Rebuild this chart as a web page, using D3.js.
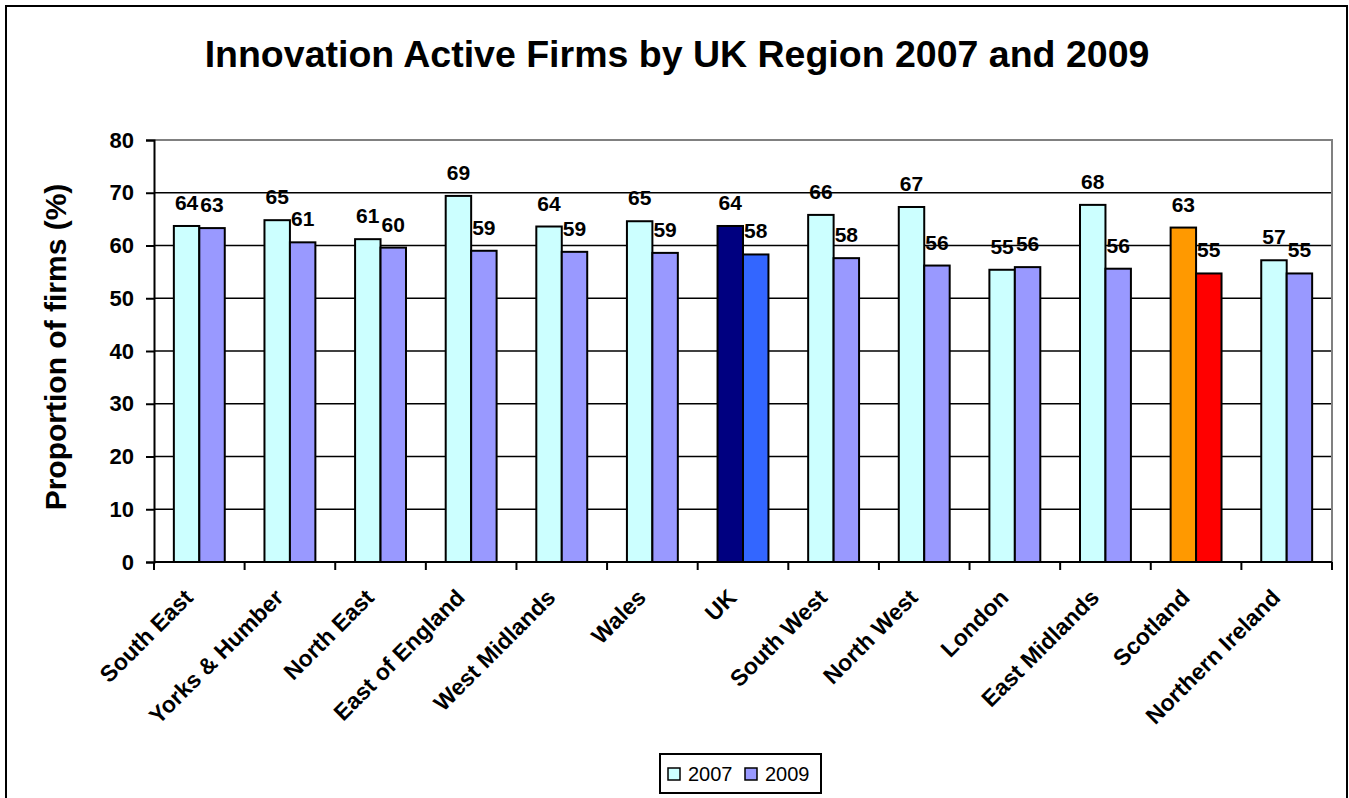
<!DOCTYPE html>
<html>
<head>
<meta charset="utf-8">
<script src="https://cdn.jsdelivr.net/npm/d3@7"></script>
<style>
  body { margin: 0; background: #fff; }
  svg { font-family: Arial, "Liberation Sans", sans-serif; }
</style>
</head>
<body>
<script>
// chart data
let regions = ['South East', 'Yorks & Humber', 'North East', 'East of England', 'West Midlands',
  'Wales', 'UK', 'South West', 'North West', 'London', 'East Midlands', 'Scotland', 'Northern Ireland'];
let values2007 = [63.7, 64.8, 61.2, 69.4, 63.6, 64.6, 63.7, 65.8, 67.3, 55.4, 67.7, 63.4, 57.2];
let values2009 = [63.3, 60.6, 59.6, 59.0, 58.8, 58.6, 58.3, 57.6, 56.2, 55.9, 55.6, 54.7, 54.7];
let seriesNames = ['2007', '2009'];
let yTicks = [0, 10, 20, 30, 40, 50, 60, 70, 80];

let width = 1349, height = 798;
let plotLeft = 154, plotRight = 1332, plotTop = 140, plotBottom = 562;

let seriesColors = { '2007': '#CCFFFF', '2009': '#9999FF' };
let highlight = {
  'UK': { '2007': '#000080', '2009': '#3366FF' },
  'Scotland': { '2007': '#FF9900', '2009': '#FF0000' }
};
function colorFor(region, series) {
  return highlight[region] ? highlight[region][series] : seriesColors[series];
}

let rows = regions.map((r, i) => ({ region: r, '2007': values2007[i], '2009': values2009[i] }));

let svg = d3.select('body').append('svg')
  .attr('width', width)
  .attr('height', height);

// outer chart border
svg.append('rect')
  .attr('x', 6).attr('y', 6)
  .attr('width', 1341).attr('height', 800)
  .attr('fill', 'none')
  .attr('stroke', '#000')
  .attr('stroke-width', 2);

let x = d3.scaleBand().domain(regions).range([plotLeft, plotRight]);
let inner = d3.scaleBand().domain(seriesNames)
  .range([0, x.bandwidth()]).paddingOuter(0.78).paddingInner(0);
let y = d3.scaleLinear().domain([0, 80]).range([plotBottom, plotTop]);

// gridlines
svg.append('g')
  .selectAll('line')
  .data(yTicks.filter(t => t > 0 && t < 80))
  .enter().append('line')
  .attr('x1', plotLeft).attr('x2', plotRight)
  .attr('y1', d => y(d)).attr('y2', d => y(d))
  .attr('stroke', '#000')
  .attr('stroke-width', 1.5);

// plot area border (top & right, grey)
svg.append('path')
  .attr('d', 'M' + plotLeft + ',' + y(80) + 'H' + plotRight + 'V' + plotBottom)
  .attr('fill', 'none')
  .attr('stroke', '#808080')
  .attr('stroke-width', 2);

// bars
let groups = svg.append('g').selectAll('g')
  .data(rows)
  .enter().append('g')
  .attr('transform', d => 'translate(' + x(d.region) + ',0)');

groups.selectAll('rect')
  .data(d => seriesNames.map(s => ({ region: d.region, series: s, value: d[s] })))
  .enter().append('rect')
  .attr('x', d => inner(d.series))
  .attr('width', inner.bandwidth())
  .attr('y', d => y(d.value))
  .attr('height', d => y(0) - y(d.value))
  .attr('fill', d => colorFor(d.region, d.series))
  .attr('stroke', '#000')
  .attr('stroke-width', 2);

groups.selectAll('text')
  .data(d => seriesNames.map(s => ({ series: s, value: d[s] })))
  .enter().append('text')
  .attr('x', d => inner(d.series) + inner.bandwidth() / 2)
  .attr('y', d => y(d.value) - 16)
  .attr('text-anchor', 'middle')
  .attr('font-size', 21)
  .attr('font-weight', 'bold')
  .text(d => d3.format('.0f')(d.value));

// y axis
let yAxis = svg.append('g')
  .attr('transform', 'translate(' + plotLeft + ',0)')
  .call(d3.axisLeft(y).tickValues(yTicks).tickSize(8).tickPadding(12));
yAxis.select('.domain').attr('stroke-width', 2);
yAxis.selectAll('.tick line').attr('stroke-width', 2);
yAxis.selectAll('text')
  .attr('font-size', 22)
  .attr('font-weight', 'bold')
  .attr('fill', '#000')
  .attr('font-family', 'Arial, "Liberation Sans", sans-serif');

// x axis (ticks at band edges)
let xAxisG = svg.append('g').attr('transform', 'translate(0,' + plotBottom + ')');
xAxisG.append('line')
  .attr('x1', plotLeft).attr('x2', plotRight)
  .attr('stroke', '#000').attr('stroke-width', 2);
xAxisG.selectAll('.edge')
  .data(regions.concat(['end']))
  .enter().append('line')
  .attr('class', 'edge')
  .attr('x1', (d, i) => i < regions.length ? x(d) : plotRight)
  .attr('x2', (d, i) => i < regions.length ? x(d) : plotRight)
  .attr('y1', 0).attr('y2', 8)
  .attr('stroke', '#000').attr('stroke-width', 2);
xAxisG.selectAll('.lab')
  .data(regions)
  .enter().append('text')
  .attr('class', 'lab')
  .attr('text-anchor', 'end')
  .attr('font-size', 23)
  .attr('font-weight', 'bold')
  .attr('transform', d => 'translate(' + (x(d) + x.bandwidth() / 2 - 5) + ',37)rotate(-45)')
  .text(d => d);

// y axis title
svg.append('text')
  .attr('text-anchor', 'middle')
  .attr('transform', 'translate(66,347)rotate(-90)')
  .attr('font-size', 30)
  .attr('font-weight', 'bold')
  .text('Proportion of firms (%)');

// title
svg.append('text')
  .attr('text-anchor', 'middle')
  .attr('x', 677).attr('y', 67)
  .attr('font-size', 37.5)
  .attr('font-weight', 'bold')
  .text('Innovation Active Firms by UK Region 2007 and 2009');

// legend
let legend = svg.append('g').attr('transform', 'translate(660,754)');
legend.append('rect')
  .attr('width', 161).attr('height', 39)
  .attr('fill', '#fff').attr('stroke', '#000').attr('stroke-width', 2);
let items = legend.selectAll('.item')
  .data(seriesNames)
  .enter().append('g')
  .attr('class', 'item')
  .attr('transform', (d, i) => 'translate(' + (8 + i * 77) + ',0)');
items.append('rect')
  .attr('y', 14).attr('width', 12).attr('height', 12)
  .attr('fill', d => seriesColors[d])
  .attr('stroke', '#000').attr('stroke-width', 1.5);
items.append('text')
  .attr('x', 20).attr('y', 27)
  .attr('font-size', 20)
  .text(d => d);
</script>
</body>
</html>
